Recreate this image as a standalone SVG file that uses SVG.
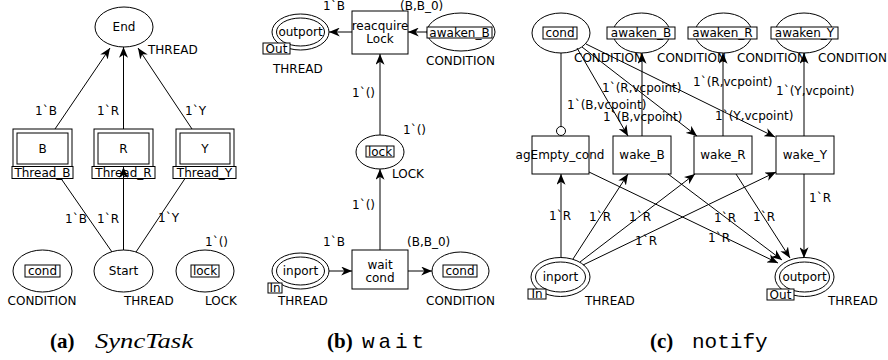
<svg xmlns="http://www.w3.org/2000/svg" width="888" height="360" viewBox="0 0 888 360">
<style>
text{font-family:"DejaVu Sans",Verdana,sans-serif;font-size:12px;fill:#000}
.m{text-anchor:middle}
.n{fill:#fff;stroke:#000;stroke-width:1}
.c line,.c path{stroke:#000;stroke-width:1;fill:none}
.cap{font-family:"Liberation Serif",serif;font-size:21px}
.tt{font-family:"Liberation Mono",monospace;font-size:21px}
</style>
<defs>
<marker id="ah" viewBox="0 0 12 10" refX="12" refY="5" markerWidth="11" markerHeight="9" markerUnits="userSpaceOnUse" orient="auto">
<path d="M0,0 L12,5 L0,10 L3.5,5 z" fill="#000"/>
</marker>
</defs>
<rect width="888" height="360" fill="#fff"/>

<!-- Panel (a) -->
<g id="a-end"><ellipse class="n" cx="124" cy="27" rx="29" ry="20"/><text class="m" x="124" y="31">End</text><text x="148" y="54">THREAD</text></g>
<g id="a-B"><rect class="n" x="13" y="129" width="59" height="38"/><rect class="n" x="17" y="133" width="51" height="31"/><text class="m" x="42.5" y="153">B</text><rect class="n" x="12" y="166.5" width="61" height="12"/><text class="m" x="42.5" y="176.5">Thread_B</text></g>
<g id="a-R"><rect class="n" x="94" y="129" width="59" height="38"/><rect class="n" x="98" y="133" width="51" height="31"/><text class="m" x="123.5" y="153">R</text><rect class="n" x="92" y="166.5" width="63" height="12"/><text class="m" x="123.5" y="176.5">Thread_R</text></g>
<g id="a-Y"><rect class="n" x="176" y="129" width="58" height="38"/><rect class="n" x="180" y="133" width="50" height="31"/><text class="m" x="205" y="153">Y</text><rect class="n" x="173" y="166.5" width="63" height="12"/><text class="m" x="204.5" y="176.5">Thread_Y</text></g>
<g id="a-cond"><ellipse class="n" cx="42.5" cy="271" rx="29.5" ry="21"/><rect class="n" x="25" y="265" width="35" height="12"/><text class="m" x="42.5" y="275">cond</text><text class="m" x="42" y="305">CONDITION</text></g>
<g id="a-start"><ellipse class="n" cx="123.5" cy="271" rx="29.5" ry="21"/><text class="m" x="123.5" y="275">Start</text><text x="124" y="305">THREAD</text></g>
<g id="a-lock"><ellipse class="n" cx="205" cy="271" rx="29" ry="21"/><rect class="n" x="191" y="265" width="28" height="12"/><text class="m" x="205" y="275">lock</text><text x="205" y="305">LOCK</text><text x="205" y="246">1`()</text></g>

<!-- Panel (b) -->
<g id="b-outport"><ellipse class="n" cx="300.5" cy="32" rx="28.5" ry="18"/><ellipse class="n" cx="300.5" cy="32" rx="24" ry="14"/><text class="m" x="300.5" y="36">outport</text><rect class="n" x="263" y="43" width="27" height="11"/><text class="m" x="276.5" y="52.5">Out</text><text x="273" y="73">THREAD</text></g>
<g id="b-reacquire"><rect class="n" x="352" y="11" width="56" height="43"/><text class="m" x="380" y="29.5">reacquire</text><text class="m" x="380" y="42.5">Lock</text></g>
<g id="b-awaken"><ellipse class="n" cx="461" cy="32" rx="34" ry="19"/><rect class="n" x="427" y="27" width="65" height="11"/><text class="m" x="459.5" y="36.5">awaken_B</text><text x="426" y="65">CONDITION</text></g>
<g id="b-lock"><ellipse class="n" cx="380" cy="152" rx="24" ry="17"/><rect class="n" x="366" y="146" width="28" height="11"/><text class="m" x="380" y="155.5">lock</text><text x="392" y="178">LOCK</text></g>
<g id="b-wait"><rect class="n" x="352" y="250" width="56" height="39"/><text class="m" x="380" y="269">wait</text><text class="m" x="380" y="282">cond</text></g>
<g id="b-inport"><ellipse class="n" cx="300.5" cy="271" rx="28.5" ry="18"/><ellipse class="n" cx="300.5" cy="271" rx="24" ry="14"/><text class="m" x="300.5" y="275">inport</text><rect class="n" x="268" y="283" width="14" height="10"/><text class="m" x="275" y="292">In</text><text x="278" y="305">THREAD</text></g>
<g id="b-cond"><ellipse class="n" cx="460.5" cy="271" rx="28.5" ry="19"/><rect class="n" x="443" y="265" width="34" height="12"/><text class="m" x="460" y="275">cond</text><text x="426" y="305">CONDITION</text></g>

<!-- Panel (c) -->
<g id="c-cond"><ellipse class="n" cx="561" cy="33" rx="29" ry="20"/><rect class="n" x="543" y="27" width="34" height="12"/><text class="m" x="560" y="37">cond</text><text x="574" y="62">CONDITION</text></g>
<g id="c-awB"><ellipse class="n" cx="641.5" cy="33" rx="28.5" ry="20"/><rect class="n" x="607" y="27" width="68" height="12"/><text class="m" x="641" y="37">awaken_B</text><text x="657" y="62">CONDITION</text></g>
<g id="c-awR"><ellipse class="n" cx="723.5" cy="33" rx="28.5" ry="20"/><rect class="n" x="688" y="27" width="69" height="12"/><text class="m" x="722.5" y="37">awaken_R</text><text x="737" y="62">CONDITION</text></g>
<g id="c-awY"><ellipse class="n" cx="804" cy="33" rx="29" ry="20"/><rect class="n" x="771" y="27" width="67" height="12"/><text class="m" x="804.5" y="37">awaken_Y</text><text x="818" y="62">CONDITION</text></g>
<g id="c-empty"><rect class="n" x="532" y="136" width="57" height="38"/><text class="m" x="560" y="159">agEmpty_cond</text></g>
<g id="c-wB"><rect class="n" x="613" y="136" width="58" height="38"/><text class="m" x="642" y="159">wake_B</text></g>
<g id="c-wR"><rect class="n" x="694" y="136" width="58" height="38"/><text class="m" x="723" y="159">wake_R</text></g>
<g id="c-wY"><rect class="n" x="776" y="136" width="58" height="38"/><text class="m" x="805" y="159">wake_Y</text></g>
<g id="c-inport"><ellipse class="n" cx="560.5" cy="277" rx="29.5" ry="19.5"/><ellipse class="n" cx="560.5" cy="277" rx="25" ry="15"/><text class="m" x="560.5" y="281">inport</text><rect class="n" x="528" y="289" width="18" height="10"/><text class="m" x="537" y="298">In</text><text x="585" y="305">THREAD</text></g>
<g id="c-outport"><ellipse class="n" cx="804.5" cy="277" rx="29.5" ry="19.5"/><ellipse class="n" cx="804.5" cy="277" rx="25" ry="15"/><text class="m" x="804.5" y="281">outport</text><rect class="n" x="767" y="289" width="27" height="11"/><text class="m" x="780.5" y="298.5">Out</text><text x="828" y="305">THREAD</text></g>

<!-- Connectors -->
<g id="connectors" class="c">
<line x1="55" y1="129" x2="110" y2="48" marker-end="url(#ah)"/>
<line x1="123.5" y1="129" x2="123.5" y2="47" marker-end="url(#ah)"/>
<line x1="192" y1="129" x2="138" y2="48" marker-end="url(#ah)"/>
<line x1="112" y1="252" x2="61" y2="178.5"/>
<line x1="123.5" y1="250" x2="123.5" y2="167" marker-end="url(#ah)"/>
<line x1="136" y1="252" x2="185" y2="178.5"/>

<line x1="352" y1="32" x2="329" y2="32" marker-end="url(#ah)"/>
<line x1="427" y1="32" x2="408" y2="32" marker-end="url(#ah)"/>
<line x1="380" y1="135" x2="380" y2="54" marker-end="url(#ah)"/>
<line x1="380" y1="250" x2="380" y2="169" marker-end="url(#ah)"/>
<line x1="329" y1="271" x2="352" y2="271" marker-end="url(#ah)"/>
<line x1="408" y1="271" x2="432" y2="271" marker-end="url(#ah)"/>

<line x1="561" y1="53" x2="561" y2="126.5"/>
<circle cx="561" cy="131" r="4.5" fill="#fff" stroke="#000"/>
<line x1="577" y1="48" x2="628" y2="136" marker-end="url(#ah)"/>
<line x1="582" y1="47" x2="697" y2="136" marker-end="url(#ah)"/>
<line x1="586" y1="44" x2="775" y2="137" marker-end="url(#ah)"/>
<line x1="642" y1="136" x2="642" y2="53" marker-end="url(#ah)"/>
<line x1="723" y1="136" x2="723" y2="53" marker-end="url(#ah)"/>
<line x1="804" y1="136" x2="804" y2="53" marker-end="url(#ah)"/>
<line x1="561" y1="258" x2="561" y2="174" marker-end="url(#ah)"/>
<line x1="573" y1="259" x2="628" y2="174" marker-end="url(#ah)"/>
<line x1="580" y1="262" x2="695" y2="174" marker-end="url(#ah)"/>
<line x1="583" y1="265" x2="776" y2="172" marker-end="url(#ah)"/>
<line x1="589" y1="172" x2="778" y2="263" marker-end="url(#ah)"/>
<line x1="668" y1="174" x2="782" y2="260" marker-end="url(#ah)"/>
<line x1="736" y1="174" x2="790" y2="258" marker-end="url(#ah)"/>
<line x1="804" y1="174" x2="804" y2="258" marker-end="url(#ah)"/>
</g>

<!-- Arc labels -->
<g id="labels">
<text x="35" y="115">1`B</text><text x="97" y="115">1`R</text><text x="185" y="115">1`Y</text>
<text x="65" y="223">1`B</text><text x="97" y="223">1`R</text><text x="158" y="222">1`Y</text>
<text x="323" y="10">1`B</text><text x="400" y="10">(B,B_0)</text>
<text x="352" y="97">1`()</text><text x="403" y="134">1`()</text><text x="352" y="209">1`()</text>
<text x="323" y="246">1`B</text><text x="407" y="246">(B,B_0)</text>
<text x="567" y="109">1`(B,vcpoint)</text><text x="603" y="121">1`(B,vcpoint)</text><text x="602" y="92">1`(R,vcpoint)</text>
<text x="715" y="120">1`(Y,vcpoint)</text><text x="693" y="86">1`(R,vcpoint)</text><text x="776" y="95">1`(Y,vcpoint)</text>
<text x="549" y="220">1`R</text><text x="589" y="221">1`R</text><text x="629" y="221">1`R</text><text x="635" y="245">1`R</text>
<text x="708" y="242">1`R</text><text x="714" y="222">1`R</text><text x="753" y="221">1`R</text><text x="809" y="202">1`R</text>
</g>

<!-- Captions -->
<g id="captions">
<text class="cap" x="50" y="348" font-weight="bold">(a)</text><text class="cap" x="95" y="348" font-style="italic" font-size="22" textLength="98" lengthAdjust="spacingAndGlyphs">SyncTask</text>
<text class="cap" x="327" y="348" font-weight="bold">(b)</text><text class="tt" x="362" y="348" textLength="62" lengthAdjust="spacing">wait</text>
<text class="cap" x="650" y="348" font-weight="bold">(c)</text><text class="tt" x="692" y="348">notify</text>
</g>
</svg>
